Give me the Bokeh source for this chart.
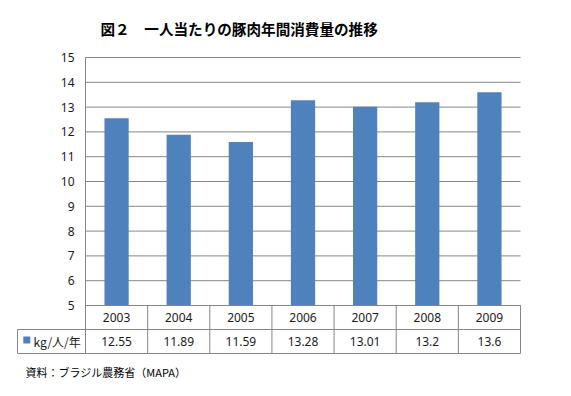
from bokeh.plotting import figure
from bokeh.models import Range1d
from bokeh.core.properties import value
from bokeh.embed import file_html
from bokeh.resources import INLINE

# ---- data ----
years = ["2003", "2004", "2005", "2006", "2007", "2008", "2009"]
consumption = [12.55, 11.89, 11.59, 13.28, 13.01, 13.2, 13.6]
value_labels = ["12.55", "11.89", "11.59", "13.28", "13.01", "13.2", "13.6"]
y_ticks = [5, 6, 7, 8, 9, 10, 11, 12, 13, 14, 15]
series_name = "kg/人/年"
title_text = "図２　一人当たりの豚肉年間消費量の推移"
source_text = "資料：ブラジル農務省（MAPA）"

# ---- geometry (page pixels) ----
W, H = 555, 380
OX, OY = 0, 0
PX_LEFT, PX_RIGHT = 85.0, 520.0
PY_TOP, PY_BOTTOM = 57.0, 305.0
YMIN, YMAX = 5.0, 15.0
n = len(years)
colw = (PX_RIGHT - PX_LEFT) / n
unit = (PY_BOTTOM - PY_TOP) / (YMAX - YMIN)

def xd(px):
    return -0.5 + (px - PX_LEFT) / colw

def yd(py):
    return YMIN + (PY_BOTTOM - py) / unit

p = figure(width=W, height=H, output_backend="svg", toolbar_location=None,
           x_range=Range1d(xd(OX), xd(OX + W)), y_range=Range1d(yd(OY + H), yd(OY)),
           min_border=0, min_border_left=0, min_border_right=0,
           min_border_top=0, min_border_bottom=0)
p.axis.visible = False
p.grid.visible = False
p.outline_line_color = None
p.background_fill_color = "white"
p.border_fill_color = "white"

GRAY = "#868686"
FONT = "Noto Sans"

# gridlines
x_left, x_right = xd(PX_LEFT), xd(PX_RIGHT)
p.segment(x0=[x_left] * len(y_ticks), y0=y_ticks, x1=[x_right] * len(y_ticks), y1=y_ticks,
          line_color=GRAY, line_width=1)

# bars
xs = list(range(n))
p.vbar(x=xs, top=consumption, bottom=YMIN, width=0.39, fill_color="#4F81BD", line_color=None)

# y tick labels
p.text(x=[xd(74)] * len(y_ticks), y=y_ticks, text=[str(t) for t in y_ticks],
       text_align="right", text_baseline="middle", text_font=value(FONT),
       text_font_size="12px", text_color="#1a1a1a")

# table
row1 = yd(329.0)
row2 = yd(353.0)
tbl_left = xd(17.0)
p.segment(x0=[x_left, tbl_left, tbl_left], y0=[YMIN, row1, row2],
          x1=[x_right, x_right, x_right], y1=[YMIN, row1, row2],
          line_color=GRAY, line_width=1)
vx = [x_left + i for i in range(n + 1)]
p.segment(x0=vx, y0=[YMAX] + [YMIN] * n, x1=vx, y1=[row2] * (n + 1),
          line_color=GRAY, line_width=1)
p.segment(x0=[tbl_left], y0=[row1], x1=[tbl_left], y1=[row2], line_color=GRAY, line_width=1)

# year labels and values
p.text(x=xs, y=[(YMIN + row1) / 2] * n, text=years, text_align="center",
       text_baseline="middle", text_font=value(FONT), text_font_size="12px",
       text_color="#1a1a1a")
p.text(x=xs, y=[(row1 + row2) / 2] * n, text=value_labels, text_align="center",
       text_baseline="middle", text_font=value(FONT), text_font_size="12px",
       text_color="#1a1a1a")

# legend key
p.rect(x=[xd(26.3)], y=[yd(339.5)], width=7, height=7, width_units="screen",
       height_units="screen", fill_color="#4F81BD", line_color=None)
p.text(x=[xd(33)], y=[yd(340.5)], text=[series_name], text_align="left",
       text_baseline="middle", text_font=value("Noto Sans CJK JP"), text_font_size="12px",
       text_color="#1a1a1a")

# title
p.text(x=[xd(100)], y=[yd(28)], text=[title_text], text_align="left",
       text_baseline="middle", text_font=value("Noto Sans CJK JP"), text_font_size="14.6px",
       text_font_style="bold", text_color="black")

# source
p.text(x=[xd(25)], y=[yd(371.5)], text=[source_text], text_align="left",
       text_baseline="middle", text_font=value("Noto Sans CJK JP"), text_font_size="11px",
       text_color="black")

open("out.html", "w").write(file_html(p, INLINE))
